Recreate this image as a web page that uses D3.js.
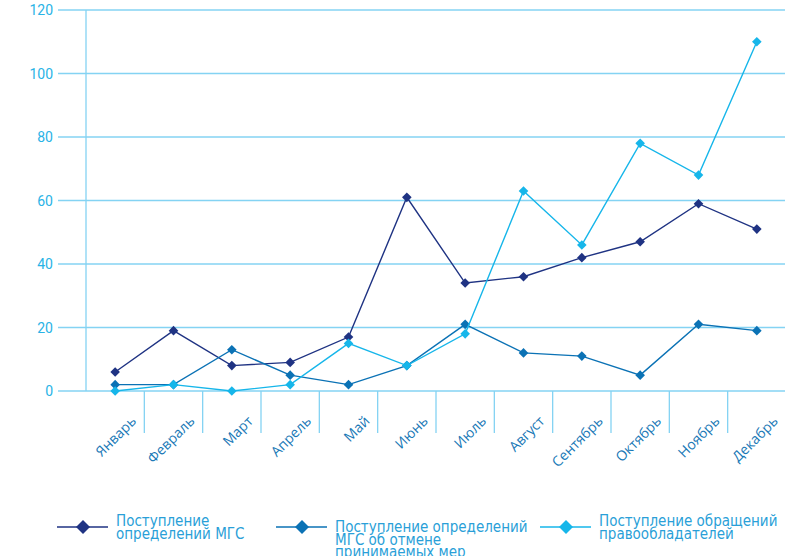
<!DOCTYPE html>
<html>
<head>
<meta charset="utf-8">
<script src="https://cdn.jsdelivr.net/npm/d3@7"></script>
<style>
  body { margin: 0; background: #fff; }
  svg { display: block; }
  .ytick text { font-family: Roboto, "Open Sans", sans-serif; font-size: 14px; fill: #29b3e6; }
  .xlab { font-family: "Open Sans", Roboto, sans-serif; font-size: 14px; fill: #1878b6; }
  .legend text { font-family: "Liberation Sans Narrow", "DejaVu Sans Condensed", sans-serif; font-stretch: condensed; font-size: 15px; fill: #2a9fd8; }
</style>
</head>
<body>
<div id="chart"></div>
<script>
const months = ['Январь', 'Февраль', 'Март', 'Апрель', 'Май', 'Июнь', 'Июль', 'Август', 'Сентябрь', 'Октябрь', 'Ноябрь', 'Декабрь'];
const mgsRulings = [6, 19, 8, 9, 17, 61, 34, 36, 42, 47, 59, 51];
const mgsCancel = [2, 2, 13, 5, 2, 8, 21, 12, 11, 5, 21, 19];
const ownerRequests = [0, 2, 0, 2, 15, 8, 18, 63, 46, 78, 68, 110];
const yTicks = [0, 20, 40, 60, 80, 100, 120];

const seriesList = [
    { name: ['Поступление', 'определений МГС'], values: mgsRulings, color: '#1f3383' },
    { name: ['Поступление определений', 'МГС об отмене', 'принимаемых мер'], values: mgsCancel, color: '#0b72b5' },
    { name: ['Поступление обращений', 'правообладателей'], values: ownerRequests, color: '#16b6ea' }
];

const width = 785;
const height = 556;
const gridColor = '#84d3f3';

const svg = d3.select('#chart').append('svg')
    .attr('width', width)
    .attr('height', height);

const x = d3.scaleBand()
    .domain(months)
    .range([86, 786]);

const y = d3.scaleLinear()
    .domain([0, 120])
    .range([391, 10]);

// square diamond marker, r = half diagonal
const diamondPath = r => `M0,${-r}L${r},0L0,${r}L${-r},0Z`;

// horizontal gridlines + y labels
const yg = svg.append('g').attr('class', 'ytick');
yg.selectAll('line')
    .data(yTicks)
    .enter().append('line')
    .attr('x1', 58).attr('x2', width)
    .attr('y1', d => y(d)).attr('y2', d => y(d))
    .attr('stroke', gridColor)
    .attr('stroke-width', 1.3);
yg.selectAll('text')
    .data(yTicks)
    .enter().append('text')
    .attr('x', 53)
    .attr('y', d => y(d))
    .attr('dy', '0.36em')
    .attr('text-anchor', 'end')
    .text(d => d);

// vertical axis line
svg.append('line')
    .attr('x1', 86).attr('x2', 86)
    .attr('y1', y(120)).attr('y2', y(0))
    .attr('stroke', gridColor)
    .attr('stroke-width', 1.3);

// category separators below the axis
svg.append('g').selectAll('line')
    .data(months)
    .enter().append('line')
    .attr('x1', d => x(d) + x.bandwidth())
    .attr('x2', d => x(d) + x.bandwidth())
    .attr('y1', y(0)).attr('y2', 433)
    .attr('stroke', gridColor)
    .attr('stroke-width', 1.3);

// x labels
svg.append('g').selectAll('text')
    .data(months)
    .enter().append('text')
    .attr('class', 'xlab')
    .attr('text-anchor', 'end')
    .attr('transform', d => `translate(${x(d) + x.bandwidth() / 2 + 22},${422}) rotate(-45)`)
    .text(d => d);

// lines and markers
const line = d3.line()
    .x((d, i) => x(months[i]) + x.bandwidth() / 2)
    .y(d => y(d));

seriesList.forEach(s => {
    const g = svg.append('g');
    g.append('path')
        .datum(s.values)
        .attr('d', line)
        .attr('fill', 'none')
        .attr('stroke', s.color)
        .attr('stroke-width', 1.4);
    g.selectAll('path.pt')
        .data(s.values)
        .enter().append('path')
        .attr('class', 'pt')
        .attr('d', diamondPath(4.8))
        .attr('transform', (d, i) => `translate(${x(months[i]) + x.bandwidth() / 2},${y(d)})`)
        .attr('fill', s.color);
});

// legend
const legendPos = [
    { lx: 57, tx: 116, ty: 526 },
    { lx: 276, tx: 335, ty: 532 },
    { lx: 540, tx: 599, ty: 526 }
];
const legend = svg.append('g').attr('class', 'legend');
seriesList.forEach((s, i) => {
    const p = legendPos[i];
    legend.append('line')
        .attr('x1', p.lx).attr('x2', p.lx + 51)
        .attr('y1', 527).attr('y2', 527)
        .attr('stroke', s.color)
        .attr('stroke-width', 1.6);
    legend.append('path')
        .attr('d', diamondPath(7))
        .attr('transform', `translate(${p.lx + 26},527)`)
        .attr('fill', s.color);
    const t = legend.append('text').attr('x', p.tx).attr('y', p.ty);
    s.name.forEach((ln, k) => {
        t.append('tspan').attr('x', p.tx).attr('dy', k === 0 ? 0 : 12.5).text(ln);
    });
});
</script>
</body>
</html>
